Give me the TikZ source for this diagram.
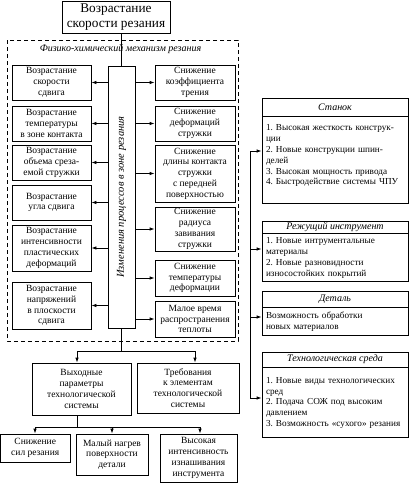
\documentclass[tikz,border=0pt]{standalone}
\usepackage{fontspec}
\setmainfont{Liberation Serif}
\frenchspacing
\usetikzlibrary{arrows.meta,positioning}

\begin{document}
\begin{tikzpicture}[x=1pt,y=-1pt,line width=0.8pt,
  >={Latex[length=5pt,width=3.5pt]},
  box/.style={draw,align=center,inner sep=1pt,font=\fontsize{9.5}{10.8}\selectfont},
  lbox/.style={box,minimum width=79pt},
  rbox/.style={box,minimum width=80pt},
  head/.style={draw,inner sep=0pt,minimum width=146pt,font=\itshape\fontsize{10}{11}\selectfont},
  body/.style={draw,anchor=north,align=left,inner xsep=4pt,inner ysep=1pt,
    text width=138pt,font=\fontsize{9.2}{10.8}\selectfont}]
\useasboundingbox (0,0) rectangle (410,483);
% coordinates
\coordinate (j1) at ( 77,351);%
\coordinate (j2) at (195,351);%
\coordinate (k1) at ( 35,427);%
\coordinate (k3) at (200,427);%
\coordinate (rt1) at (250,151);%
\coordinate (rt2) at (250,249);%
\coordinate (rt3) at (250,317);%
\coordinate (rt4) at (250,398);%
% top
\node[draw,align=center,inner sep=1pt,minimum width=108pt,minimum height=32pt,
  font=\fontsize{13.3}{15}\selectfont] (speed) at (116,17) {Возрастание\\скорости резания};
% mechanism frame
\draw[dash pattern=on 4pt off 3pt] (7,40) rectangle (238,341);
\node[font=\itshape\fontsize{10}{11}\selectfont] (mech) at (120.5,49) {Физико-химический механизм резания};
\node[draw,minimum width=27pt,minimum height=262pt,inner sep=0pt] (proc) at (121.5,197) {};
\node[rotate=90,font=\itshape\fontsize{10.5}{11}\selectfont] (proctxt) at (proc.center) {Изменения процессов в зоне резания};
% left column
\node[lbox,minimum height=35pt] (l1) at (51.5, 82.5) {Возрастание\\скорости\\сдвига};
\node[lbox,minimum height=35pt] (l2) at (51.5,123.5) {Возрастание\\температуры\\в зоне контакта};
\node[lbox,minimum height=35pt] (l3) at (51.5,162.5) {Возрастание\\объема среза-\\емой стружки};
\node[lbox,minimum height=35pt] (l4) at (51.5,202.5) {Возрастание\\угла сдвига};
\node[lbox,minimum height=46pt] (l5) at (51.5,248)   {Возрастание\\интенсивности\\пластических\\деформаций};
\node[lbox,minimum height=47pt] (l6) at (51.5,305.5) {Возрастание\\напряжений\\в плоскости\\сдвига};
% right column
\node[rbox,minimum height=35pt] (r1) at (195, 82.5) {Снижение\\коэффициента\\трения};
\node[rbox,minimum height=35pt] (r2) at (195,123.5) {Снижение\\деформаций\\стружки};
\node[rbox,minimum height=57pt] (r3) at (195,173.5) {Снижение\\длины контакта\\стружки\\с передней\\поверхностью};
\node[rbox,minimum height=44pt] (r4) at (195,229)   {Снижение\\радиуса\\завивания\\стружки};
\node[rbox,minimum height=36pt] (r5) at (195,278)   {Снижение\\температуры\\деформации};
\node[rbox,minimum height=36pt] (r6) at (195,319)   {Малое время\\распространения\\теплоты};
% arrows inside frame
\draw (speed.south -| proc.north) -- (proc.north);
\foreach \n in {l1,l2,l3,l4,l5,l6}
  \draw[->] (proc.west |- \n.east) -- (\n.east);
\foreach \n in {r1,r2,r3,r4,r5,r6}
  \draw[->] (proc.east |- \n.west) -- (\n.west);
% output
\node[box,minimum width=99pt,minimum height=52pt] (out) at (81.5,389) {Выходные\\параметры\\технологической\\системы};
\node[box,minimum width=102pt,minimum height=50pt] (req) at (188,388) {Требования\\к элементам\\технологической\\системы};
\node[box,minimum width=69.5pt,minimum height=28pt] (b1) at (35.25,448) {Снижение\\сил резания};
\node[box,minimum width=72pt,minimum height=41pt] (b2) at (112,454.5) {Малый нагрев\\поверхности\\детали};
\node[box,minimum width=77pt,minimum height=48pt] (b3) at (198.5,458) {Высокая\\интенсивность\\изнашивания\\инструмента};
\draw (proc.south) -- (proc.south |- j1);
\draw[<->] (j1 |- out.north) -- (j1) -- (j2) -- (j2 |- req.north);
\draw (out.south -| j1) -- (j1 |- k1);
\draw[<->] (k1 |- b1.north) -- (k1) -- (k3) -- (k3 |- b3.north);
\draw[->] (b2.north |- k1) -- (b2.north);
% elements of system
\node[head,minimum height=18pt] (mach) at (335,107) {Станок};
\node[body,minimum height=87pt] (machb) at (mach.south) {1. Высокая жесткость конструк-\\ции\\2. Новые конструкции шпин-\\делей\\3. Высокая мощность привода\\4. Быстродействие системы ЧПУ\\ \mbox{}};
\node[head,minimum height=12pt] (tool) at (335,227) {Режущий инструмент};
\node[body,minimum height=48pt] (toolb) at (tool.south) {1. Новые интрументальные\\материалы\\2. Новые разновидности\\износостойких покрытий};
\node[head,minimum height=16pt] (part) at (335,299) {Деталь};
\node[body,minimum height=28pt] (partb) at (part.south) {Возможность обработки\\новых материалов};
\node[head,minimum height=15pt] (env) at (335,359.5) {Технологическая среда};
\node[body,minimum height=70pt] (envb) at (env.south) {1. Новые виды технологических\\сред\\2. Подача СОЖ под высоким\\давлением\\3. Возможность «сухого» резания};
\draw (rt1) -- (rt4);
\draw[->] (rt1) -- (rt1 -| machb.west);
\draw[->] (rt2) -- (rt2 -| toolb.west);
\draw[->] (rt3) -- (rt3 -| partb.west);
\draw[->] (rt4) -- (rt4 -| envb.west);
\end{tikzpicture}
\end{document}
